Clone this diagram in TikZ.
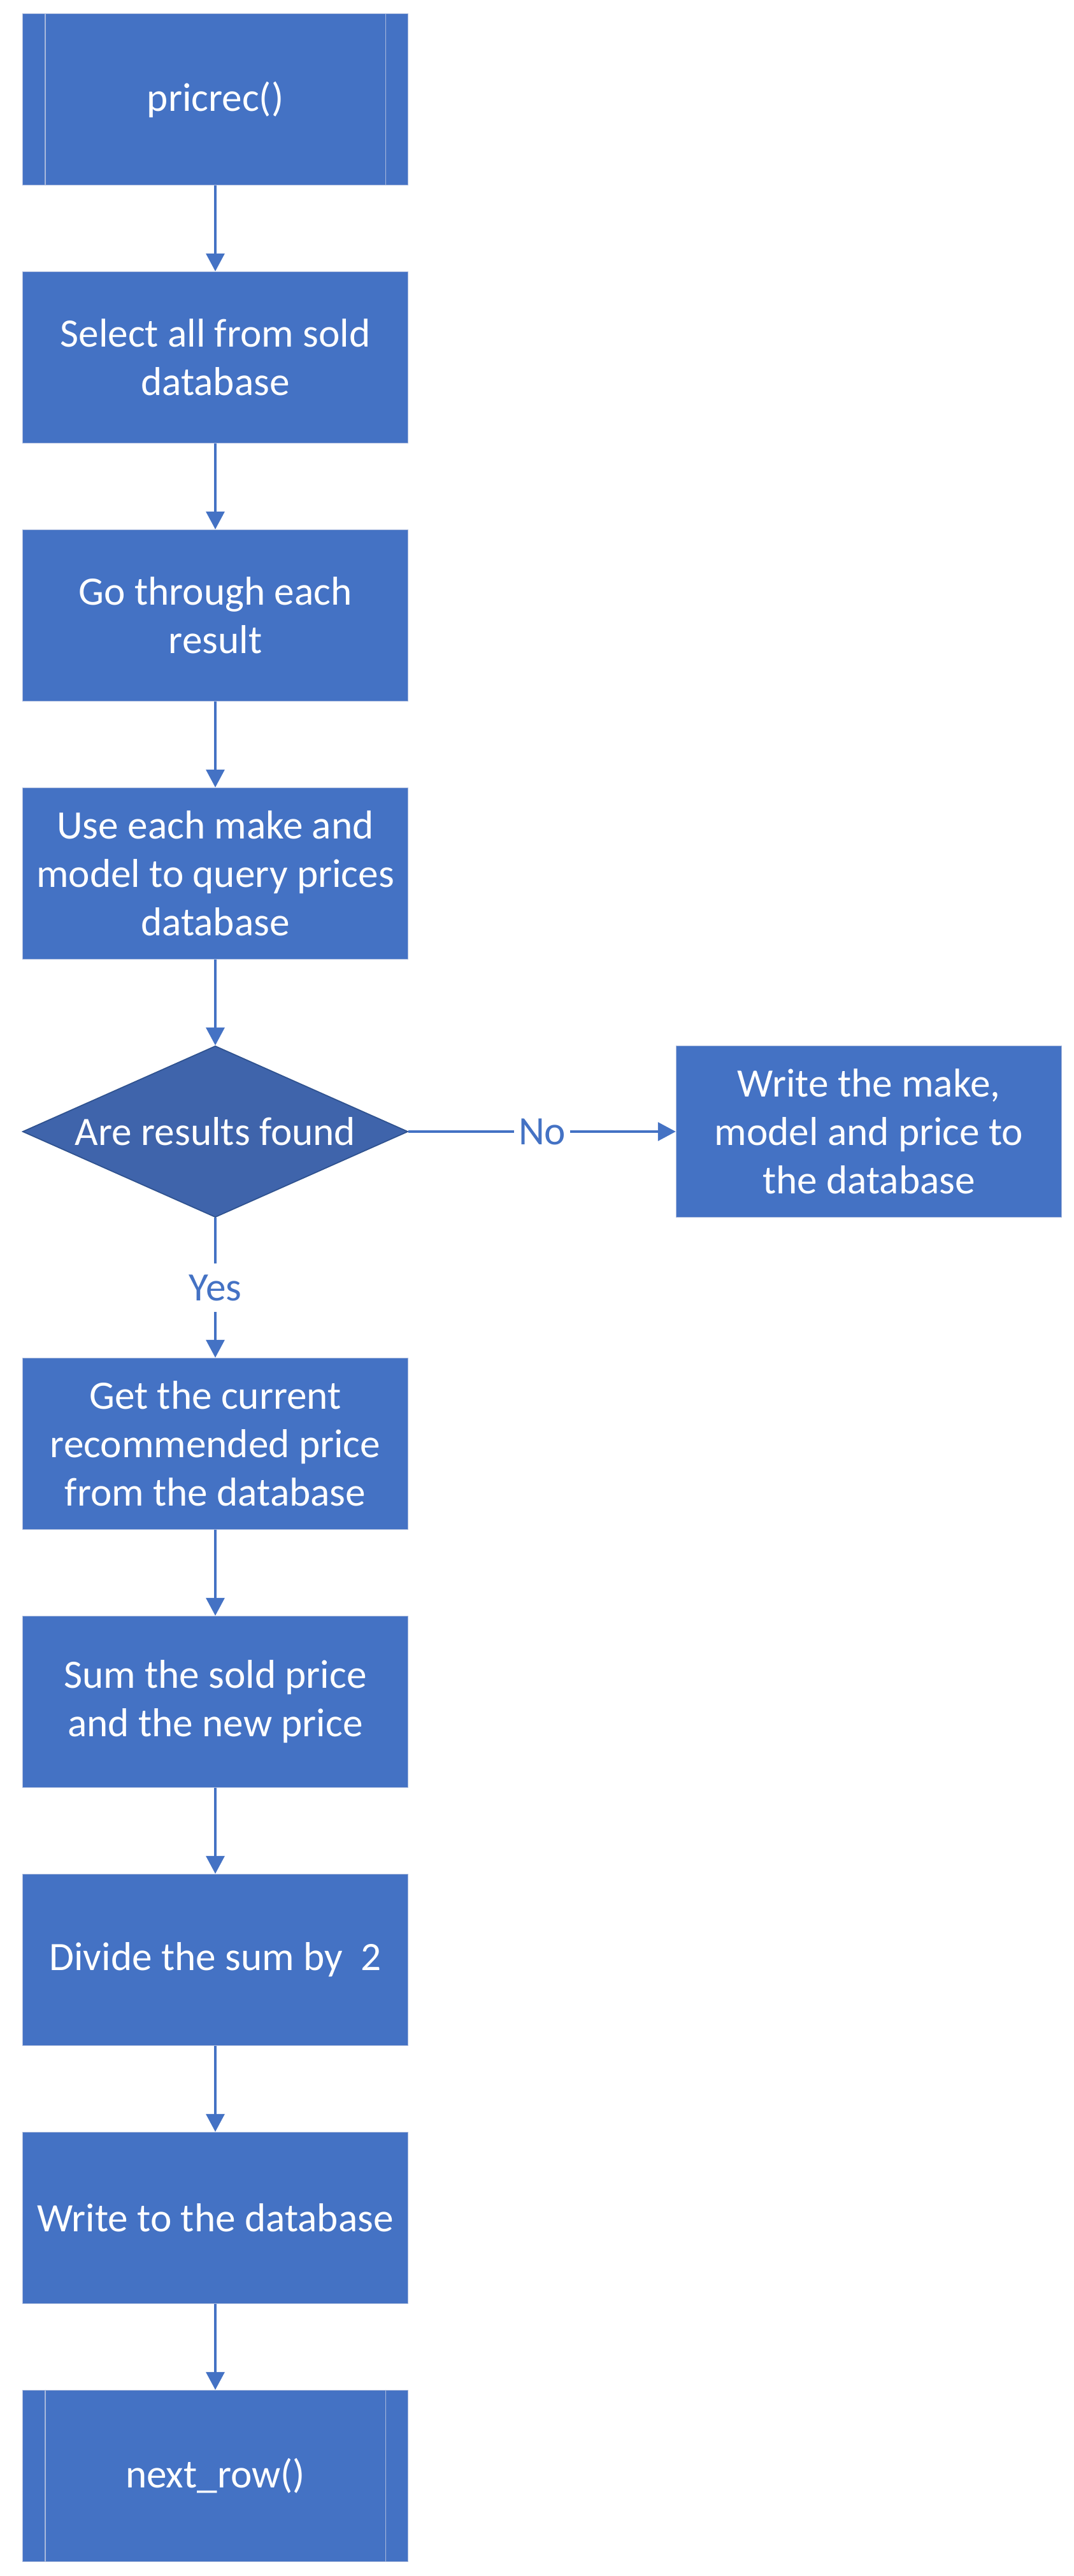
\documentclass[tikz,border=0pt]{standalone}
\usepackage{fontspec}
\setmainfont{Carlito}
\usetikzlibrary{arrows.meta,shapes.geometric}
\definecolor{boxblue}{HTML}{4472C4}
\definecolor{diablue}{HTML}{3F64AB}
\definecolor{diaedge}{HTML}{2F528F}
\definecolor{boxedge}{HTML}{A9B9DC}
\tikzset{
  procbox/.style={rectangle, fill=boxblue, draw=boxedge, line width=0.4pt,
    minimum width=6.05cm, minimum height=2.69cm, inner sep=0pt,
    text=white, align=center, font=\fontsize{18}{21.6}\selectfont},
  predef/.style={procbox},
  decision/.style={diamond, fill=diablue, draw=diaedge, line width=0.5pt,
    aspect=2.25, minimum width=6.05cm, minimum height=2.69cm, inner sep=0pt,
    text=white, align=center, font=\fontsize{18}{21.6}\selectfont},
  flow/.style={draw=boxblue, line width=1pt, -{Triangle[width=0.29cm,length=0.28cm]}},
  flowlabel/.style={fill=white, text=boxblue, inner xsep=2pt, inner ysep=5pt, font=\fontsize{18}{21.6}\selectfont},
  innerline/.style={draw=boxedge, line width=0.4pt}
}
\begin{document}
\begin{tikzpicture}
\useasboundingbox (0,0) rectangle (16.86,-40.43);
\node[predef] (start) at (3.38,-1.56) {pricrec()};
\node[procbox] (select) at (3.38,-5.61) {Select all from sold\\database};
\node[procbox] (go) at (3.38,-9.66) {Go through each\\result};
\node[procbox] (use) at (3.38,-13.71) {Use each make and\\model to query prices\\database};
\node[decision] (found) at (3.38,-17.76) {Are results found};
\node[procbox] (writenew) at (13.64,-17.76) {Write the make,\\model and price to\\the database};
\node[procbox] (get) at (3.38,-22.66) {Get the current\\recommended price\\from the database};
\node[procbox] (sum) at (3.38,-26.71) {Sum the sold price\\and the new price};
\node[procbox] (divide) at (3.38,-30.76) {Divide the sum by\ \ 2};
\node[procbox] (write) at (3.38,-34.81) {Write to the database};
\node[predef] (next) at (3.38,-38.86) {next\_row()};
% inner bars of predefined-process boxes
\foreach \n in {start,next}{
  \draw[innerline] ([xshift=0.36cm]\n.north west) -- ([xshift=0.36cm]\n.south west);
  \draw[innerline] ([xshift=-0.36cm]\n.north east) -- ([xshift=-0.36cm]\n.south east);
}
\draw[flow] (start) -- (select);
\draw[flow] (select) -- (go);
\draw[flow] (go) -- (use);
\draw[flow] (use) -- (found);
\draw[flow] (found) -- node[flowlabel] {No} (writenew);
\draw[flow] (found) -- node[flowlabel, pos=0.5] {Yes} (get);
\draw[flow] (get) -- (sum);
\draw[flow] (sum) -- (divide);
\draw[flow] (divide) -- (write);
\draw[flow] (write) -- (next);
\end{tikzpicture}
\end{document}
